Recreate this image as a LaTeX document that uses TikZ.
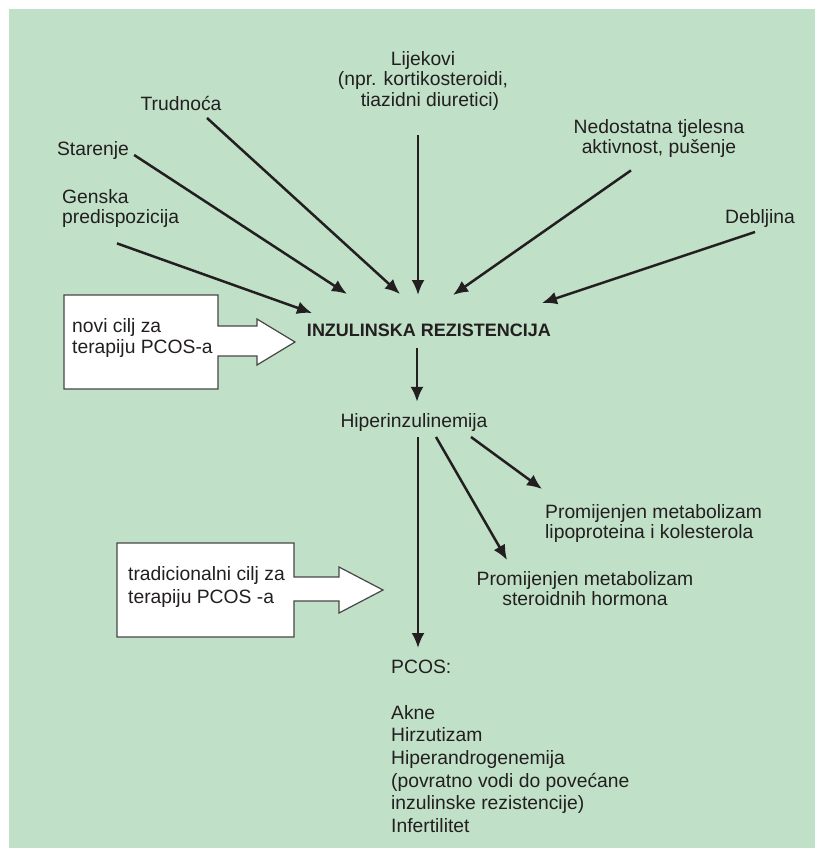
\documentclass[tikz,border=0pt]{standalone}
\usepackage{fontspec}
\setmainfont{Liberation Sans}
\usetikzlibrary{positioning}
\usetikzlibrary{arrows.meta}

\definecolor{pozadina}{RGB}{192,224,199}
\definecolor{tekst}{RGB}{35,31,32}
\definecolor{okvir}{RGB}{70,70,70}

\tikzset{
  oznaka/.style={inner sep=0pt, text=tekst, font=\fontsize{19.3}{20.5}\selectfont},
  strelica/.style={line width=2.5pt, draw=tekst, -{Latex[length=15pt,width=13pt]}},
  cilj/.style={draw=okvir, fill=white, line width=1.2pt, line join=miter}
}

\begin{document}
\begin{tikzpicture}[x=1pt, y=-1pt]
  \useasboundingbox (0,0) rectangle (815,848);

  % Pozadina
  \fill[pozadina] (9,9) rectangle (815,848);

  % Uzroci
  \node[oznaka, align=center, anchor=north] (lijek) at (423,51) {Lijekovi\\(npr. kortikosteroidi,\\\hspace*{14pt}tiazidni diuretici)};
  \node[oznaka, anchor=base] (trud) at (181,111) {Trudnoća};
  \node[oznaka, anchor=base] (star) at (93,155) {Starenje};
  \node[oznaka, align=left, anchor=north west] (gen) at (62,189) {Genska\\predispozicija};
  \node[oznaka, align=center, anchor=north] (nedo) at (659,119) {Nedostatna tjelesna\\aktivnost, pušenje};
  \node[oznaka, anchor=base] (debl) at (760,223) {Debljina};

  % Glavni pojmovi
  \node[oznaka, font=\fontsize{18}{20}\selectfont\bfseries, anchor=base] (ir) at (429,336) {INZULINSKA REZISTENCIJA};
  \node[oznaka, anchor=base] (hiper) at (414,427) {Hiperinzulinemija};
  \node[oznaka, align=left, anchor=north west] (lipo) at (545,504) {Promijenjen metabolizam\\lipoproteina i kolesterola};
  \node[oznaka, align=center, anchor=north] (ster) at (585,571) {Promijenjen metabolizam\\steroidnih hormona};
  \node[oznaka, font=\fontsize{19.3}{22.7}\selectfont, align=left, anchor=north west] (pcos) at (391,660)
    {PCOS:\\[22.7pt]Akne\\Hirzutizam\\Hiperandrogenemija\\(povratno vodi do povećane\\inzulinske rezistencije)\\Infertilitet};

  % Ciljevi terapije
  \draw[cilj] (64,295) -- (218,295) -- (218,326) -- (257,326) -- (257,319) -- (295,342)
    -- (257,365) -- (257,356) -- (218,356) -- (218,389) -- (64,389) -- cycle;
  \node[oznaka, font=\fontsize{19.3}{21}\selectfont, align=left, anchor=north west] (novi) at (72,318) {novi cilj za\\terapiju PCOS-a};
  \draw[cilj] (117,543) -- (294,543) -- (294,577) -- (339,577) -- (339,567) -- (383,590)
    -- (339,613) -- (339,601) -- (294,601) -- (294,637) -- (117,637) -- cycle;
  \node[oznaka, font=\fontsize{19.3}{23}\selectfont, align=left, anchor=north west] (trad) at (128,566) {tradicionalni cilj za\\terapiju PCOS -a};

  % Strelice prema inzulinskoj rezistenciji
  \foreach \src/\dst in {{([shift={(55,15.5)}]gen.south west)/([shift={(-117,-23)}]ir.base)},
                         {([xshift=5pt]star.base east)/([shift={(-82,-42)}]ir.base)},
                         {([shift={(26,7)}]trud.base)/([shift={(-29,-42)}]ir.base)},
                         {([shift={(-5,25)}]lijek.south)/([shift={(-11,-41)}]ir.base)},
                         {([shift={(-28,12.5)}]nedo.south)/([shift={(24,-41)}]ir.base)},
                         {([shift={(-5,9)}]debl.base)/([shift={(113,-33)}]ir.base)}}
    \draw[strelica] \src -- \dst;

  % Posljedice
  \draw[strelica] ([shift={(-12,12)}]ir.base) -- ([shift={(3,-11)}]hiper.north);
  \draw[strelica] ([shift={(4,10)}]hiper.base) -- ([shift={(27,-12)}]pcos.north west);
  \draw[strelica] ([shift={(22,10)}]hiper.base) -- ([shift={(-78,-11)}]ster.north);
  \draw[strelica] ([shift={(57,10)}]hiper.base) -- ([shift={(-3,-15)}]lipo.north west);

\end{tikzpicture}
\end{document}
